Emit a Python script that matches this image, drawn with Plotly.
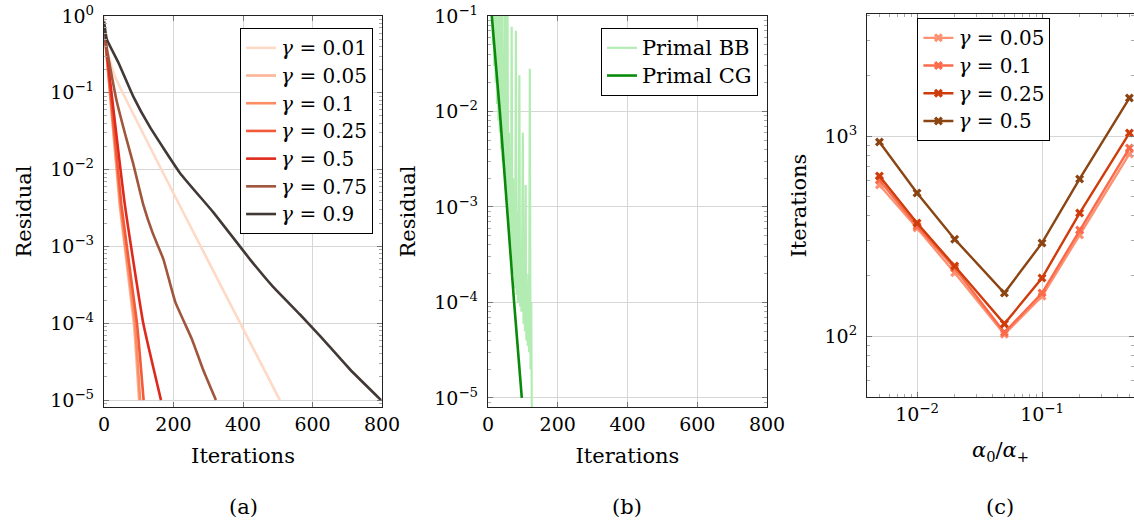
import plotly.graph_objects as go

FONT = "DejaVu Serif"
TICK_FS = 19
TITLE_FS = 21
LEG_FS = 19

# ---------------- panel (a): residual vs iterations for several gamma ----------------
a_labels = ["0.01", "0.05", "0.1", "0.25", "0.5", "0.75", "0.9"]
a_colors = ["#fedac6", "#fcb596", "#fc8c62", "#f25a3a", "#de2a1c", "#a0553d", "#423835"]

a_it_001 = [0, 10, 30, 506]
a_res_001 = [1.0, 0.35, 0.17, 1e-5]
a_it_005 = [0, 45, 86, 101]
a_res_005 = [0.75, 3.5e-3, 1e-4, 1e-5]
a_it_01 = [0, 47, 89, 104]
a_res_01 = [0.75, 3.5e-3, 1e-4, 1e-5]
a_it_025 = [0, 50, 95, 114]
a_res_025 = [0.75, 3.5e-3, 1e-4, 1e-5]
a_it_05 = [0, 60, 113, 164]
a_res_05 = [0.7, 3.5e-3, 1.0e-4, 1e-5]
a_it_075 = [0, 15, 36, 60, 84, 113, 140, 171, 205, 253, 285, 322]
a_res_075 = [0.6, 0.25, 0.08, 0.03, 0.012, 3.5e-3, 1.5e-3, 6.8e-4, 1.9e-4, 6.2e-5, 2.5e-5, 1e-5]
a_it_09 = [0, 8, 41, 84, 132, 219, 314, 420, 486, 564, 622, 708, 797]
a_res_09 = [0.85, 0.5, 0.25, 0.09, 0.036, 9e-3, 2.8e-3, 6.8e-4, 3.0e-4, 1.3e-4, 6.8e-5, 2.5e-5, 1e-5]

a_its = [a_it_001, a_it_005, a_it_01, a_it_025, a_it_05, a_it_075, a_it_09]
a_res = [a_res_001, a_res_005, a_res_01, a_res_025, a_res_05, a_res_075, a_res_09]

# ---------------- panel (b): Primal BB vs Primal CG ----------------
bb_iter = [0, 2, 4, 6, 8, 10, 12, 14, 16, 18, 20, 22, 24, 26, 28, 30, 32, 34, 36, 38,
           40, 42, 44, 46, 48, 50, 52, 54, 56, 58, 60, 62, 64, 66, 68, 70, 72, 74, 76, 78,
           80, 82, 84, 86, 88, 90, 92, 94, 96, 98, 100, 102, 104, 106, 108, 110, 112, 114,
           116, 118, 120, 122, 124, 126]
bb_res = [1.0, 0.3, 0.9, 0.15, 0.6, 0.1, 0.5, 0.05, 0.4, 0.03, 0.3, 0.02, 0.25, 0.012,
          0.2, 0.008, 0.15, 0.006, 0.12, 0.004, 0.2, 0.003, 0.02, 0.0025, 0.3, 0.0015,
          0.25, 0.0012, 0.15, 0.0008, 0.006, 0.0006, 0.003, 0.0004, 0.077, 0.00025, 0.002,
          0.0002, 0.001, 0.00014, 0.07, 0.00012, 0.0009, 0.0001, 0.0005, 0.024, 9e-5,
          0.0003, 8e-5, 0.0004, 0.006, 6e-5, 0.0003, 5e-5, 0.0017, 4e-5, 0.00015, 3.5e-5,
          0.0002, 3e-5, 0.028, 2e-5, 0.0001, 5e-6]
cg_iter = [0, 11, 34, 54, 75, 97]
cg_res = [0.5, 0.1, 0.01, 1e-3, 1e-4, 1e-5]

# ---------------- panel (c): iterations vs alpha0/alpha+ ----------------
c_alpha = [0.005, 0.01, 0.02, 0.05, 0.1, 0.2, 0.5]
c_labels = ["0.05", "0.1", "0.25", "0.5"]
c_colors = ["#fc9272", "#fb6a4a", "#cf3c0b", "#8b4513"]
c_it_005 = [569, 347, 207, 102, 158, 320, 813]
c_it_01 = [603, 355, 219, 104, 164, 339, 871]
c_it_025 = [631, 367, 224, 115, 195, 412, 1035]
c_it_05 = [933, 519, 305, 164, 292, 610, 1549]
c_its = [c_it_005, c_it_01, c_it_025, c_it_05]

res_tickvals_a = [1, 1e-1, 1e-2, 1e-3, 1e-4, 1e-5]
res_ticktext_a = ["10<sup>0</sup>", "10<sup>−1</sup>", "10<sup>−2</sup>", "10<sup>−3</sup>",
                  "10<sup>−4</sup>", "10<sup>−5</sup>"]
res_tickvals_b = [1e-1, 1e-2, 1e-3, 1e-4, 1e-5]
res_ticktext_b = ["10<sup>−1</sup>", "10<sup>−2</sup>", "10<sup>−3</sup>",
                  "10<sup>−4</sup>", "10<sup>−5</sup>"]
iter_tickvals = [0, 200, 400, 600, 800]
c_ytickvals = [100, 1000]
c_yticktext = ["10<sup>2</sup>", "10<sup>3</sup>"]
c_xtickvals = [0.01, 0.1]
c_xticktext = ["10<sup>−2</sup>", "10<sup>−1</sup>"]

minor_res = [m * 10.0 ** e for e in range(-6, 0) for m in range(2, 10)]
minor_c_y = [m * 10.0 ** e for e in range(1, 4) for m in range(2, 10)]
minor_c_x = [m * 10.0 ** e for e in range(-3, 0) for m in range(2, 10)]


def legname(text, size):
    return f'<span style="font-size:{size}px">{text}</span>'


fig = go.Figure()

for lab, col, xs, ys in zip(a_labels, a_colors, a_its, a_res):
    fig.add_trace(go.Scatter(x=xs, y=ys, mode="lines",
                             name=legname(f"<i>γ</i> = {lab}", 20),
                             line=dict(color=col, width=2.6, shape="spline", smoothing=0.4),
                             xaxis="x", yaxis="y", legend="legend"))

fig.add_trace(go.Scatter(x=bb_iter, y=bb_res, mode="lines", name=legname("Primal BB", 21),
                         line=dict(color="#b3ecb3", width=2.2), xaxis="x2", yaxis="y2",
                         legend="legend2"))
fig.add_trace(go.Scatter(x=cg_iter, y=cg_res, mode="lines", name=legname("Primal CG", 21),
                         line=dict(color="#0a8a0a", width=2.6), xaxis="x2", yaxis="y2",
                         legend="legend2"))

for lab, col, ys in zip(c_labels, c_colors, c_its):
    fig.add_trace(go.Scatter(x=c_alpha, y=ys, mode="lines+markers",
                             name=legname(f"<i>γ</i> = {lab}", 20),
                             line=dict(color=col, width=2.4),
                             marker=dict(symbol="x", size=8, color=col),
                             xaxis="x3", yaxis="y3", legend="legend3"))

AX = dict(showline=True, linecolor="#222", linewidth=1.2, mirror="allticks",
          showgrid=True, gridcolor="#d6d6d6", gridwidth=1, zeroline=False,
          ticks="inside", ticklen=5, tickcolor="#777", automargin=False,
          tickfont=dict(family=FONT, size=TICK_FS, color="#000"),
          title_font=dict(family=FONT, size=TITLE_FS, color="#000"))


def minor(vals):
    return dict(tickmode="array", tickvals=vals, ticks="inside", ticklen=3,
                tickcolor="#aaa", showgrid=False)


LEG = dict(bordercolor="#000", borderwidth=1, bgcolor="white",
           font=dict(family=FONT, size=LEG_FS, color="#000"), tracegroupgap=0)

ya = [0.2218, 0.9694]
fig.update_layout(
    width=1134, height=523, margin=dict(l=0, r=0, t=0, b=0, autoexpand=False),
    paper_bgcolor="white", plot_bgcolor="white",
    xaxis=dict(AX, domain=[0.0917, 0.3369], anchor="y", range=[0, 800],
               tickvals=iter_tickvals, title=dict(text="Iterations", standoff=14)),
    yaxis=dict(AX, domain=ya, anchor="x", type="log", range=[-5.09, 0],
               tickvals=res_tickvals_a, ticktext=res_ticktext_a, minor=minor(minor_res),
               ticklabelstandoff=5, title=dict(text="Residual", standoff=12)),
    xaxis2=dict(AX, domain=[0.4303, 0.6764], anchor="y2", range=[0, 800],
                tickvals=iter_tickvals, title=dict(text="Iterations", standoff=14)),
    yaxis2=dict(AX, domain=ya, anchor="x2", type="log", range=[-5.095, -1],
                tickvals=res_tickvals_b, ticktext=res_ticktext_b, minor=minor(minor_res),
                ticklabelstandoff=5, title=dict(text="Residual", standoff=12)),
    xaxis3=dict(AX, domain=[0.7646, 1.0], anchor="y3", type="log",
                range=[-2.4, -0.264], tickvals=c_xtickvals, ticktext=c_xticktext,
                minor=minor(minor_c_x),
                title=dict(text="<i>α</i><sub>0</sub>/<i>α</i><sub>+</sub>", standoff=18)),
    yaxis3=dict(AX, domain=[0.2409, 0.9732], anchor="x3", type="log",
                range=[1.695, 3.61], tickvals=c_ytickvals, ticktext=c_yticktext,
                minor=minor(minor_c_y), ticklabelstandoff=5,
                title=dict(text="Iterations", standoff=12)),
    legend=dict(LEG, x=0.329, y=0.9465, xanchor="right", yanchor="top"),
    legend2=dict(LEG, x=0.6684, y=0.9465, xanchor="right", yanchor="top"),
    legend3=dict(LEG, x=0.809, y=0.9656, xanchor="left", yanchor="top"),
    showlegend=True,
)

for txt, xc in [("(a)", 0.2143), ("(b)", 0.553), ("(c)", 0.882)]:
    fig.add_annotation(text=txt, x=xc, y=0.0306, xref="paper", yref="paper",
                       showarrow=False, font=dict(family=FONT, size=TITLE_FS, color="#000"),
                       xanchor="center", yanchor="middle")

fig.write_html("out.html")
